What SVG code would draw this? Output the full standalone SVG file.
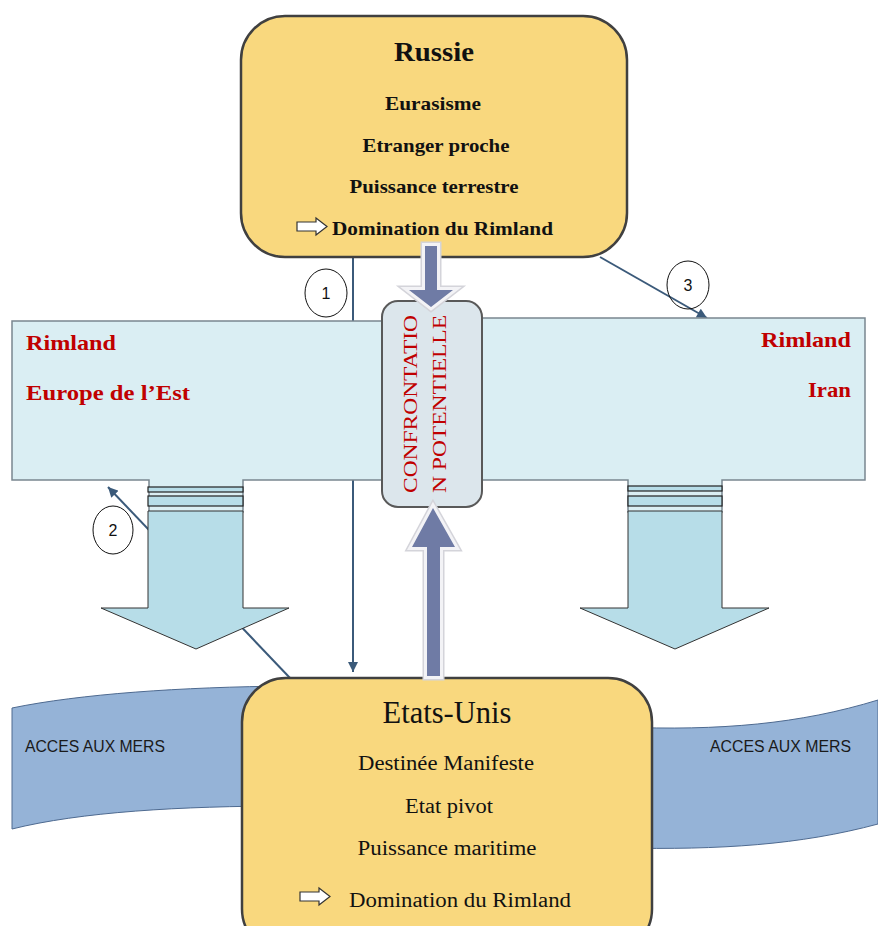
<svg xmlns="http://www.w3.org/2000/svg" width="878" height="926" viewBox="0 0 878 926">
  <defs>
    <style>
      .power { fill: #F9D87E; stroke: #404040; stroke-width: 2.5; }
      .band { fill: #95B3D7; stroke: #4E6A90; stroke-width: 1; }
      .rim { fill: #DAEEF3; stroke: #7A8790; stroke-width: 1.5; }
      .stripe { fill: #B7DDE8; stroke: #222; stroke-width: 1.2; }
      .flow { fill: #B7DDE8; stroke: #333; stroke-width: 1; }
      .conf { fill: #DCE6EC; stroke: #595959; stroke-width: 2; }
      .halo1 { fill: none; stroke: #D4D4DA; stroke-width: 9; stroke-linejoin: miter; }
      .halo2 { fill: none; stroke: #F3F3F6; stroke-width: 6; stroke-linejoin: miter; }
      .push { fill: #6F7BA5; }
      .link { stroke: #3B5A7A; stroke-width: 2; fill: none; }
      .num { fill: none; stroke: #111; stroke-width: 1; }
      .numt { font-family: "Liberation Sans", Arial, sans-serif; font-size: 16px; fill: #111; text-anchor: middle; }
      .head { font-family: "Liberation Serif", "Times New Roman", serif; font-weight: bold; fill: #111; text-anchor: middle; }
      .item { font-family: "Liberation Serif", "Times New Roman", serif; font-weight: bold; font-size: 19px; fill: #111; }
      .us { font-family: "Liberation Serif", "Times New Roman", serif; font-size: 20px; fill: #111; }
      .title { font-family: "Liberation Serif", "Times New Roman", serif; font-size: 31px; fill: #111; text-anchor: middle; }
      .mid { text-anchor: middle; }
      .red { font-family: "Liberation Serif", "Times New Roman", serif; font-weight: bold; font-size: 22px; fill: #C00000; }
      .vert { font-family: "Liberation Serif", "Times New Roman", serif; font-size: 18px; fill: #C00000; text-anchor: middle; }
      .sea { font-family: "Liberation Sans", Arial, sans-serif; font-size: 16px; fill: #1a1a1a; }
      .mini { fill: #fff; stroke: #333; stroke-width: 1.2; }
    </style>
    <marker id="tip" viewBox="0 0 10 10" refX="10" refY="5" markerWidth="11" markerHeight="10" markerUnits="userSpaceOnUse" orient="auto">
      <path d="M0,0 L10,5 L0,10 Z" fill="#3B5A7A"/>
    </marker>
  </defs>

  <!-- sea access bands -->
  <g id="sea-left">
    <path class="band" d="M12,708 C80,694 180,687 290,686 L290,806 C180,806 80,812 12,829 Z"/>
    <text class="sea" x="25" y="752" textLength="140" lengthAdjust="spacingAndGlyphs">ACCES AUX MERS</text>
  </g>
  <g id="sea-right">
    <path class="band" d="M620,727 C720,731 800,724 878,700 L878,824 C800,845 720,850 620,848 Z"/>
    <text class="sea" x="710" y="752" textLength="141" lengthAdjust="spacingAndGlyphs">ACCES AUX MERS</text>
  </g>

  <!-- connectors -->
  <g id="connectors">
    <line class="link" x1="353" y1="257" x2="353" y2="672" marker-end="url(#tip)"/>
    <line class="link" x1="290" y1="678" x2="108" y2="487" marker-end="url(#tip)"/>
    <line class="link" x1="600" y1="257" x2="707" y2="318" marker-end="url(#tip)"/>
    <ellipse class="num" cx="326" cy="293" rx="21" ry="24"/>
    <text class="numt" x="326" y="299">1</text>
    <ellipse class="num" cx="113" cy="530" rx="20" ry="24"/>
    <text class="numt" x="113" y="536">2</text>
    <ellipse class="num" cx="688" cy="285" rx="21" ry="24"/>
    <text class="numt" x="688" y="291">3</text>
  </g>

  <!-- Rimland: Europe de l'Est -->
  <g id="rimland-est">
    <path class="rim" d="M12,321 H383 V480 H243 V512 H149 V480 H12 Z"/>
    <rect class="stripe" x="148" y="487" width="95" height="5"/>
    <rect class="stripe" x="148" y="496" width="95" height="10"/>
    <path class="flow" d="M148,511 H243 V608 H289 L196,649 L101,608 H148 Z"/>
    <text class="red" x="26" y="350" textLength="90" lengthAdjust="spacingAndGlyphs">Rimland</text>
    <text class="red" x="26" y="400" textLength="164" lengthAdjust="spacingAndGlyphs">Europe de l’Est</text>
  </g>

  <!-- Rimland: Iran -->
  <g id="rimland-iran">
    <path class="rim" d="M482,318 H865 V480 H722 V512 H628 V480 H482 Z"/>
    <rect class="stripe" x="628" y="486" width="94" height="5"/>
    <rect class="stripe" x="628" y="496" width="94" height="10"/>
    <path class="flow" d="M628,511 H722 V608 H769 L675,649 L580,608 H628 Z"/>
    <text class="red" x="761" y="347" textLength="90" lengthAdjust="spacingAndGlyphs">Rimland</text>
    <text class="red" x="808" y="397" textLength="43" lengthAdjust="spacingAndGlyphs">Iran</text>
  </g>

  <!-- Russia -->
  <g id="russie">
    <rect class="power" x="241" y="16" width="386" height="241" rx="44"/>
    <text class="head" x="434" y="61" font-size="28" textLength="80" lengthAdjust="spacingAndGlyphs">Russie</text>
    <text class="item mid" x="433" y="110" textLength="96" lengthAdjust="spacingAndGlyphs">Eurasisme</text>
    <text class="item mid" x="436" y="152" textLength="147" lengthAdjust="spacingAndGlyphs">Etranger proche</text>
    <text class="item mid" x="434" y="193" textLength="169" lengthAdjust="spacingAndGlyphs">Puissance terrestre</text>
    <path class="mini" d="M297,222 H316 V218 L327,226.5 L316,235 V231 H297 Z"/>
    <text class="item" x="332" y="235" textLength="221" lengthAdjust="spacingAndGlyphs">Domination du Rimland</text>
  </g>

  <!-- United States -->
  <g id="etats-unis">
    <rect class="power" x="242" y="678" width="410" height="275" rx="44"/>
    <text class="title" x="447" y="723" textLength="129" lengthAdjust="spacingAndGlyphs">Etats-Unis</text>
    <text class="us mid" x="446" y="770" textLength="176" lengthAdjust="spacingAndGlyphs">Destinée Manifeste</text>
    <text class="us mid" x="449" y="813" textLength="88" lengthAdjust="spacingAndGlyphs">Etat pivot</text>
    <text class="us mid" x="447" y="855" textLength="179" lengthAdjust="spacingAndGlyphs">Puissance maritime</text>
    <path class="mini" d="M300,892 H319 V888 L330,896.5 L319,905 V901 H300 Z"/>
    <text class="us" x="349" y="907" textLength="222" lengthAdjust="spacingAndGlyphs">Domination du Rimland</text>
  </g>

  <!-- central confrontation -->
  <g id="confrontation">
    <rect class="conf" x="382" y="301" width="100" height="206" rx="16"/>
    <text class="vert" transform="translate(417,404) rotate(-90)" textLength="178" lengthAdjust="spacingAndGlyphs">CONFRONTATIO</text>
    <text class="vert" transform="translate(446,404) rotate(-90)" textLength="178" lengthAdjust="spacingAndGlyphs">N POTENTIELLE</text>
  </g>

  <!-- pressure arrows towards the confrontation -->
  <g id="pression-russie">
    <path class="halo1" d="M425,246 H437 V290 H453 L431,307 L409,290 H425 Z"/>
    <path class="halo2" d="M425,246 H437 V290 H453 L431,307 L409,290 H425 Z"/>
    <path class="push" d="M425,246 H437 V290 H453 L431,307 L409,290 H425 Z"/>
  </g>
  <g id="pression-usa">
    <path class="halo1" d="M427,676 H440 V547 H455 L433,508 L412,547 H427 Z"/>
    <path class="halo2" d="M427,676 H440 V547 H455 L433,508 L412,547 H427 Z"/>
    <path class="push" d="M427,676 H440 V547 H455 L433,508 L412,547 H427 Z"/>
  </g>
</svg>
